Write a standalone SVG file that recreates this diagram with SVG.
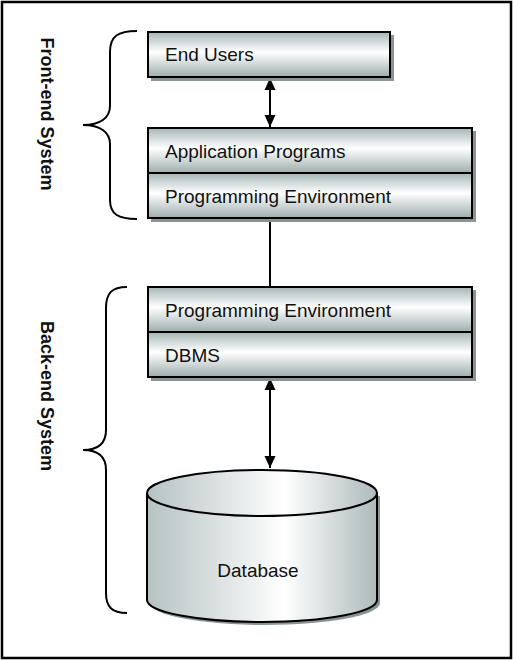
<svg xmlns="http://www.w3.org/2000/svg" width="513" height="660" viewBox="0 0 513 660">
<defs>
<linearGradient id="gv" x1="0" y1="0" x2="0" y2="1">
<stop offset="0" stop-color="#a6b5b5"/>
<stop offset="0.45" stop-color="#ffffff"/>
<stop offset="1" stop-color="#9eadad"/>
</linearGradient>
<linearGradient id="gh" x1="0" y1="0" x2="1" y2="0">
<stop offset="0" stop-color="#b6c2c2"/>
<stop offset="0.6" stop-color="#ffffff"/>
<stop offset="1" stop-color="#aebaba"/>
</linearGradient>
<marker id="ah" viewBox="0 0 12 12" refX="12" refY="6" markerWidth="12" markerHeight="12" markerUnits="userSpaceOnUse" orient="auto-start-reverse">
<path d="M0,0.5 L12,6 L0,11.5 z" fill="#000"/>
</marker>
<style>
.box{fill:url(#gv);stroke:#000;stroke-width:2}
.sh{fill:#8a9494}
.t{font-family:"Liberation Sans",Arial,sans-serif;font-size:19px;fill:#111}
.lbl{font-family:"Liberation Sans",Arial,sans-serif;font-size:18px;font-weight:bold;fill:#111}
.br{fill:none;stroke:#000;stroke-width:2}
.cn{fill:none;stroke:#000;stroke-width:2}
</style>
</defs>
<rect x="2" y="2" width="509" height="656" fill="#fff" stroke="#000" stroke-width="2.5"/>

<g id="front-end-label">
<path class="br" d="M137,31 C118,31 110,36 110,52 L110,106 C110,118 100,125 83,125 C100,125 110,132 110,144 L110,200 C110,214 118,219 137,219"/>
<text class="lbl" text-anchor="middle" transform="translate(41,114) rotate(90)">Front-end System</text>
</g>

<g id="back-end-label">
<path class="br" d="M127,287 C112,287 106,293 106,308 L106,430 C106,443 98,450 83,450 C98,450 106,457 106,470 L106,593 C106,607 112,613 127,613"/>
<text class="lbl" text-anchor="middle" transform="translate(41,396) rotate(90)">Back-end System</text>
</g>

<g id="connectors">
<line class="cn" x1="270" y1="78" x2="270" y2="127" marker-start="url(#ah)" marker-end="url(#ah)"/>
<line class="cn" x1="270" y1="219" x2="270" y2="287"/>
<line class="cn" x1="270" y1="378" x2="270" y2="468" marker-start="url(#ah)" marker-end="url(#ah)"/>
</g>

<g id="end-users">
<rect class="sh" x="151" y="35" width="243" height="46"/>
<rect class="box" x="148" y="32" width="242" height="45"/>
<text class="t" x="165" y="61">End Users</text>
</g>

<g id="front-end-stack">
<rect class="sh" x="151" y="131" width="325" height="91"/>
<rect class="box" x="148" y="128" width="324" height="45"/>
<rect class="box" x="148" y="173" width="324" height="45"/>
<text class="t" x="165" y="158">Application Programs</text>
<text class="t" x="165" y="203">Programming Environment</text>
</g>

<g id="back-end-stack">
<rect class="sh" x="151" y="290" width="325" height="91"/>
<rect class="box" x="148" y="287" width="324" height="45"/>
<rect class="box" x="148" y="332" width="324" height="45"/>
<text class="t" x="165" y="317">Programming Environment</text>
<text class="t" x="165" y="362">DBMS</text>
</g>

<g id="database">
<path class="sh" d="M150,496 L150,603 A115,22 0 0 0 380,603 L380,496 z"/>
<path d="M147,493 L147,600 A115,22 0 0 0 377,600 L377,493 A115,23 0 0 0 147,493 z" fill="url(#gh)" stroke="#000" stroke-width="2"/>
<path d="M147,493 A115,23 0 0 0 377,493" fill="none" stroke="#000" stroke-width="2"/>
<text class="t" x="258" y="577" text-anchor="middle">Database</text>
</g>
</svg>
